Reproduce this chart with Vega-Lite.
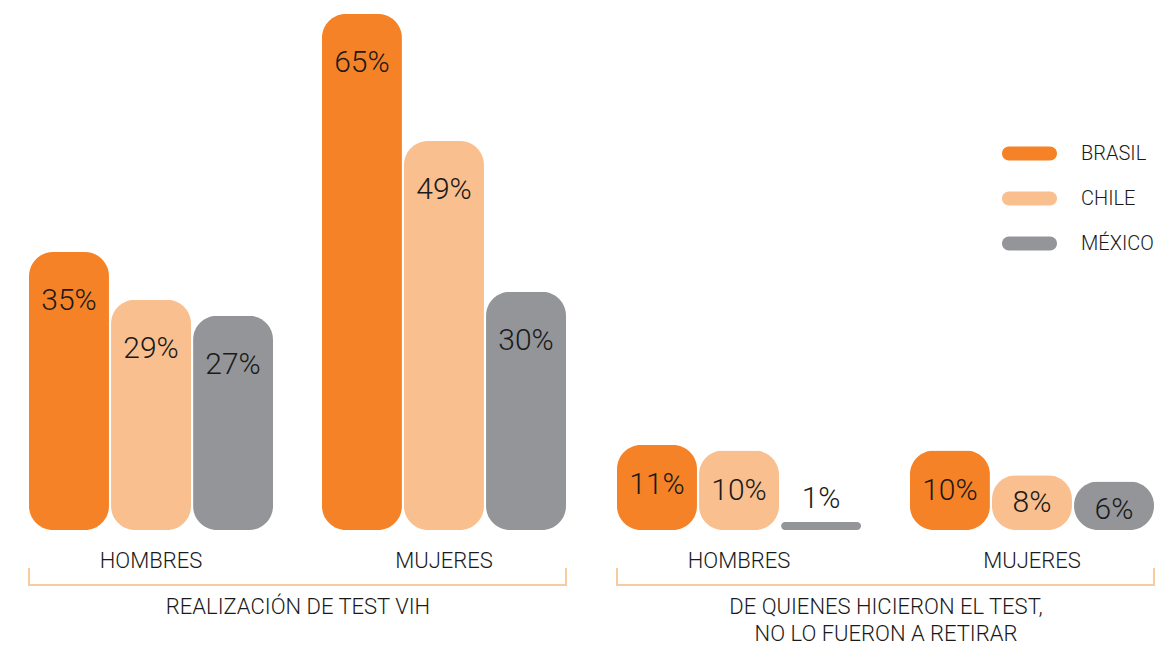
{
  "$schema": "https://vega.github.io/schema/vega-lite/v6.json",
  "background": "white",
  "padding": {"left": 28, "top": 6, "right": 5, "bottom": 2},
  "config": {
    "view": {"stroke": null},
    "font": "Roboto",
    "concat": {"spacing": 49}
  },
  "datasets": {
    "d": [
      {"seccion": "A", "sexo": "HOMBRES", "pais": "BRASIL", "valor": 0.35, "etiqueta": "35%"},
      {"seccion": "A", "sexo": "HOMBRES", "pais": "CHILE", "valor": 0.29, "etiqueta": "29%"},
      {"seccion": "A", "sexo": "HOMBRES", "pais": "MÉXICO", "valor": 0.27, "etiqueta": "27%"},
      {"seccion": "A", "sexo": "MUJERES", "pais": "BRASIL", "valor": 0.65, "etiqueta": "65%"},
      {"seccion": "A", "sexo": "MUJERES", "pais": "CHILE", "valor": 0.49, "etiqueta": "49%"},
      {"seccion": "A", "sexo": "MUJERES", "pais": "MÉXICO", "valor": 0.30, "etiqueta": "30%"},
      {"seccion": "B", "sexo": "HOMBRES", "pais": "BRASIL", "valor": 0.107, "etiqueta": "11%"},
      {"seccion": "B", "sexo": "HOMBRES", "pais": "CHILE", "valor": 0.10, "etiqueta": "10%"},
      {"seccion": "B", "sexo": "HOMBRES", "pais": "MÉXICO", "valor": 0.01, "etiqueta": "1%"},
      {"seccion": "B", "sexo": "MUJERES", "pais": "BRASIL", "valor": 0.10, "etiqueta": "10%"},
      {"seccion": "B", "sexo": "MUJERES", "pais": "CHILE", "valor": 0.069, "etiqueta": "8%"},
      {"seccion": "B", "sexo": "MUJERES", "pais": "MÉXICO", "valor": 0.061, "etiqueta": "6%"}
    ]
  },
  "resolve": {"scale": {"y": "shared", "color": "shared"}},
  "hconcat": [
    {
      "width": 537,
      "height": 524,
      "layer": [
        {
          "data": {"name": "d"},
          "transform": [{"filter": "datum.seccion === 'A'"}],
          "layer": [
            {
              "mark": {"type": "bar", "cornerRadius": 24},
              "encoding": {
                "x": {"field": "sexo", "type": "nominal", "sort": ["HOMBRES", "MUJERES"],
                  "scale": {"paddingInner": 0.167, "paddingOuter": 0},
                  "axis": {"title": "REALIZACIÓN DE TEST VIH", "labelAngle": 0, "domain": false, "ticks": false,
                    "labelPadding": 20, "labelFontSize": 22, "labelFont": "Roboto", "labelFontWeight": 300, "labelColor": "#1a1a1a",
                    "titleFontSize": 22, "titleFont": "Roboto", "titleFontWeight": 300, "titleColor": "#1a1a1a", "titlePadding": 25, "titleLineHeight": 27}},
                "xOffset": {"field": "pais", "type": "nominal", "sort": ["BRASIL", "CHILE", "MÉXICO"], "scale": {"paddingInner": 0.025, "paddingOuter": 0}},
                "y": {"field": "valor", "type": "quantitative", "scale": {"domain": [0, 0.66], "nice": false, "zero": true}, "axis": null},
                "color": {"field": "pais", "type": "nominal",
                  "scale": {"domain": ["BRASIL", "CHILE", "MÉXICO"], "range": ["#F58226", "#F9BF8F", "#939598"]},
                  "legend": {"title": null, "orient": "none", "legendX": 973, "legendY": 120,
                    "symbolType": "M-0.745,-0.2545 L0.745,-0.2545 A0.2545,0.2545 0 0 1 0.745,0.2545 L-0.745,0.2545 A0.2545,0.2545 0 0 1 -0.745,-0.2545 Z",
                    "symbolSize": 3025, "symbolStrokeWidth": 0, "symbolOpacity": 1, "labelFontSize": 20, "labelFont": "Roboto", "labelFontWeight": 300, "labelColor": "#1a1a1a", "labelOffset": 24, "rowPadding": 7}}
              }
            },
            {
              "transform": [{"filter": "datum.valor >= 0.2"}],
              "mark": {"type": "text", "baseline": "middle", "dy": 49, "fontSize": 30, "fontWeight": 300, "color": "#1a1a1a"},
              "encoding": {
                "x": {"field": "sexo", "type": "nominal", "sort": ["HOMBRES", "MUJERES"]},
                "xOffset": {"field": "pais", "type": "nominal", "sort": ["BRASIL", "CHILE", "MÉXICO"]},
                "y": {"field": "valor", "type": "quantitative"},
                "text": {"field": "etiqueta"}
              }
            }
          ]
        },
        {
          "data": {"values": [{"elemento": "corchete"}]},
          "layer": [
            {
              "mark": {"type": "rule", "color": "#FBCBA0", "strokeWidth": 2},
              "encoding": {
                "x": {"datum": "HOMBRES", "type": "nominal", "bandPosition": 0},
                "x2": {"datum": "MUJERES", "bandPosition": 1},
                "y": {"datum": -0.0693, "type": "quantitative"}
              }
            },
            {
              "mark": {"type": "rule", "color": "#FBCBA0", "strokeWidth": 2},
              "encoding": {
                "x": {"datum": "HOMBRES", "type": "nominal", "bandPosition": 0},
                "y": {"datum": -0.0705, "type": "quantitative"},
                "y2": {"datum": -0.0479}
              }
            },
            {
              "mark": {"type": "rule", "color": "#FBCBA0", "strokeWidth": 2},
              "encoding": {
                "x": {"datum": "MUJERES", "type": "nominal", "bandPosition": 1},
                "y": {"datum": -0.0705, "type": "quantitative"},
                "y2": {"datum": -0.0479}
              }
            }
          ]
        }
      ]
    },
    {
      "width": 537,
      "height": 524,
      "layer": [
        {
          "data": {"name": "d"},
          "transform": [{"filter": "datum.seccion === 'B'"}],
          "layer": [
            {
              "mark": {"type": "bar", "cornerRadius": 24},
              "encoding": {
                "x": {"field": "sexo", "type": "nominal", "sort": ["HOMBRES", "MUJERES"],
                  "scale": {"paddingInner": 0.167, "paddingOuter": 0},
                  "axis": {"title": ["DE QUIENES HICIERON EL TEST,", "NO LO FUERON A RETIRAR"], "labelAngle": 0, "domain": false, "ticks": false,
                    "labelPadding": 20, "labelFontSize": 22, "labelFont": "Roboto", "labelFontWeight": 300, "labelColor": "#1a1a1a",
                    "titleFontSize": 22, "titleFont": "Roboto", "titleFontWeight": 300, "titleColor": "#1a1a1a", "titlePadding": 25, "titleLineHeight": 27}},
                "xOffset": {"field": "pais", "type": "nominal", "sort": ["BRASIL", "CHILE", "MÉXICO"], "scale": {"paddingInner": 0.025, "paddingOuter": 0}},
                "y": {"field": "valor", "type": "quantitative", "scale": {"domain": [0, 0.66], "nice": false, "zero": true}, "axis": null},
                "color": {"field": "pais", "type": "nominal",
                  "scale": {"domain": ["BRASIL", "CHILE", "MÉXICO"], "range": ["#F58226", "#F9BF8F", "#939598"]},
                  "legend": {"title": null, "orient": "none", "legendX": 973, "legendY": 120,
                    "symbolType": "M-0.745,-0.2545 L0.745,-0.2545 A0.2545,0.2545 0 0 1 0.745,0.2545 L-0.745,0.2545 A0.2545,0.2545 0 0 1 -0.745,-0.2545 Z",
                    "symbolSize": 3025, "symbolStrokeWidth": 0, "symbolOpacity": 1, "labelFontSize": 20, "labelFont": "Roboto", "labelFontWeight": 300, "labelColor": "#1a1a1a", "labelOffset": 24, "rowPadding": 7}}
              }
            },
            {
              "transform": [{"filter": "datum.valor >= 0.09"}],
              "mark": {"type": "text", "baseline": "middle", "dy": 40, "fontSize": 30, "fontWeight": 300, "color": "#1a1a1a"},
              "encoding": {
                "x": {"field": "sexo", "type": "nominal", "sort": ["HOMBRES", "MUJERES"]},
                "xOffset": {"field": "pais", "type": "nominal", "sort": ["BRASIL", "CHILE", "MÉXICO"]},
                "y": {"field": "valor", "type": "quantitative"},
                "text": {"field": "etiqueta"}
              }
            },
            {
              "transform": [{"filter": "datum.valor >= 0.02 && datum.valor < 0.09"}],
              "mark": {"type": "text", "baseline": "middle", "dy": 28, "fontSize": 30, "fontWeight": 300, "color": "#1a1a1a"},
              "encoding": {
                "x": {"field": "sexo", "type": "nominal", "sort": ["HOMBRES", "MUJERES"]},
                "xOffset": {"field": "pais", "type": "nominal", "sort": ["BRASIL", "CHILE", "MÉXICO"]},
                "y": {"field": "valor", "type": "quantitative"},
                "text": {"field": "etiqueta"}
              }
            },
            {
              "transform": [{"filter": "datum.valor < 0.02"}],
              "mark": {"type": "text", "baseline": "middle", "dy": -23, "fontSize": 30, "fontWeight": 300, "color": "#1a1a1a"},
              "encoding": {
                "x": {"field": "sexo", "type": "nominal", "sort": ["HOMBRES", "MUJERES"]},
                "xOffset": {"field": "pais", "type": "nominal", "sort": ["BRASIL", "CHILE", "MÉXICO"]},
                "y": {"field": "valor", "type": "quantitative"},
                "text": {"field": "etiqueta"}
              }
            }
          ]
        },
        {
          "data": {"values": [{"elemento": "corchete"}]},
          "layer": [
            {
              "mark": {"type": "rule", "color": "#FBCBA0", "strokeWidth": 2},
              "encoding": {
                "x": {"datum": "HOMBRES", "type": "nominal", "bandPosition": 0},
                "x2": {"datum": "MUJERES", "bandPosition": 1},
                "y": {"datum": -0.0693, "type": "quantitative"}
              }
            },
            {
              "mark": {"type": "rule", "color": "#FBCBA0", "strokeWidth": 2},
              "encoding": {
                "x": {"datum": "HOMBRES", "type": "nominal", "bandPosition": 0},
                "y": {"datum": -0.0705, "type": "quantitative"},
                "y2": {"datum": -0.0479}
              }
            },
            {
              "mark": {"type": "rule", "color": "#FBCBA0", "strokeWidth": 2},
              "encoding": {
                "x": {"datum": "MUJERES", "type": "nominal", "bandPosition": 1},
                "y": {"datum": -0.0705, "type": "quantitative"},
                "y2": {"datum": -0.0479}
              }
            }
          ]
        }
      ]
    }
  ]
}
